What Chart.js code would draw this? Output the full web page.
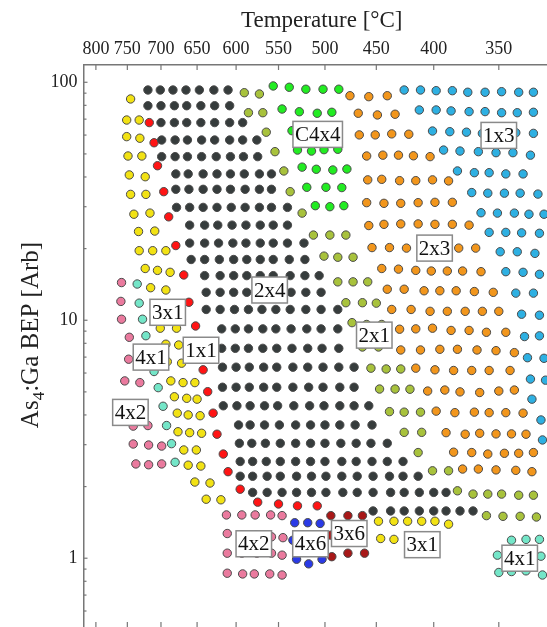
<!DOCTYPE html>
<html>
<head>
<meta charset="utf-8">
<script src="https://cdn.jsdelivr.net/npm/chart.js@4.4.1/dist/chart.umd.min.js"></script>
<style>
  html, body { margin: 0; padding: 0; overflow: hidden; background: #fff; }
  canvas { display: block; }
</style>
</head>
<body>
<canvas id="map" width="560" height="627"></canvas>
<script>
// GaAs(001) surface reconstructions observed vs. substrate temperature and As4:Ga BEP ratio.
// Each point is [temperature in °C, As4:Ga beam-equivalent-pressure ratio].

const tempTicks = [800, 750, 700, 650, 600, 550, 500, 450, 400, 350];
const bepTicks = [1, 10, 100];

const pts2x4 = [
  [719,92.8],[701,92.8],[683,92.8],[665,92.8],[647,92.8],[628,92.8],[610,92.8],
  [719,79.7],[700,79.7],[681,79.7],[664,79.7],[645,79.7],[627,79.7],[608,79.7],
  [700,67.7],[681,67.7],[664,67.7],[645,67.7],[627,67.7],[608,67.7],[592,67.7],
  [699,57.2],[680,57.2],[663,57.2],[644,57.2],[627,57.2],[608,57.2],[592,57.2],[575,57.2],
  [699,48.7],[680,48.7],[663,48.7],[644,48.7],[625,48.7],[607,48.7],[591,48.7],[574,48.7],
  [679,41.2],[662,41.2],[642,41.2],[624,41.2],[607,41.2],[590,41.2],[572,41.2],[558,41.2],
  [679,35.5],[661,35.5],[642,35.5],[624,35.5],[607,35.5],[589,35.5],[572,35.5],[558,35.5],
  [678,29.8],[660,29.8],[642,29.8],[624,29.8],[606,29.8],[589,29.8],[572,29.8],[558,29.8],[540,29.8],
  [660,25.1],[640,25.1],[623,25.1],[605,25.1],[588,25.1],[571,25.1],[556,25.1],[540,25.1],
  [660,21.1],[640,21.1],[622,21.1],[604,21.1],[588,21.1],[571,21.1],[556,21.1],[540,21.1],[522,21.1],
  [658,18.0],[640,18.0],[621,18.0],[603,18.0],[587,18.0],[571,18.0],[556,18.0],[538,18.0],[521,18.0],
  [640,15.4],[620,15.4],[603,15.4],[587,15.4],[571,15.4],[556,15.4],[537,15.4],[521,15.4],[506,15.4],
  [638,13.1],[620,13.1],[603,13.1],[587,13.1],[571,13.1],[556,13.1],[536,13.1],[520,13.1],[504,13.1],
  [638,11.1],[620,11.1],[602,11.1],[585,11.1],[569,11.1],[553,11.1],[537,11.1],[520,11.1],[504,11.1],[487,11.1],
  [618,9.2],[601,9.2],[585,9.2],[568,9.2],[553,9.2],[536,9.2],[519,9.2],[504,9.2],[487,9.2],
  [618,7.62],[601,7.62],[585,7.62],[568,7.62],[552,7.62],[535,7.62],[518,7.62],[503,7.62],[486,7.62],
  [617,6.35],[600,6.35],[584,6.35],[567,6.35],[552,6.35],[534,6.35],[518,6.35],[502,6.35],[486,6.35],[471,6.35],
  [617,5.23],[600,5.23],[584,5.23],[567,5.23],[552,5.23],[534,5.23],[517,5.23],[502,5.23],[485,5.23],[471,5.23],
  [616,4.37],[599,4.37],[583,4.37],[566,4.37],[551,4.37],[533,4.37],[516,4.37],[501,4.37],[485,4.37],[471,4.37],[457,4.37],
  [597,3.63],[583,3.63],[566,3.63],[549,3.63],[531,3.63],[515,3.63],[500,3.63],[485,3.63],[470,3.63],[454,3.63],
  [596,3.04],[581,3.04],[565,3.04],[548,3.04],[531,3.04],[515,3.04],[500,3.04],[484,3.04],[469,3.04],[455,3.04],[440,3.04],
  [595,2.55],[580,2.55],[564,2.55],[548,2.55],[531,2.55],[515,2.55],[500,2.55],[483,2.55],[469,2.55],[454,2.55],[440,2.55],[426,2.55],
  [595,2.21],[580,2.21],[563,2.21],[548,2.21],[530,2.21],[514,2.21],[499,2.21],[483,2.21],[468,2.21],[453,2.21],[438,2.21],[426,2.21],[413,2.21],
  [580,1.89],[563,1.89],[546,1.89],[530,1.89],[514,1.89],[499,1.89],[482,1.89],[468,1.89],[453,1.89],[437,1.89],[425,1.89],[412,1.89],[400,1.89],[390,1.89],
  [453,1.58],[437,1.58],[425,1.58],[412,1.58],[400,1.58],[390,1.58],[379,1.58],[369,1.58]
];

const ptsC4x4 = [
  [556,96.5],[538,95.3],[520,93.5],[502,93.5],[486,93.5],
  [546,77.2],[527,75.2],[508,74.1],[493,74.8],
  [535,62.6],[517,62.4],[502,62.4],[487,62.4],
  [529,51.9],[514,51.4],[501,52.1],[487,52.3],
  [524,44.0],[509,43.1],[492,42.8],[478,43.2],
  [519,36.2],[499,36.2],[483,36.1],
  [510,30.3],[495,30.0],[481,30.3]
];

const pts2x1 = [
  [590,90.4],[572,89.3],[585,74.5],[568,74.5],[564,61.7],[554,51.1],[544,42.4],[537,34.7],[524,28.2],
  [512,22.8],[495,22.8],[479,22.8],[501,18.6],[487,18.4],[472,18.4],
  [487,14.5],[472,14.5],[458,14.5],[479,11.85],[463,11.85],[450,11.8],
  [473,9.77],[459,9.6],[445,9.6],[463,7.72],[448,7.72],
  [455,6.29],[441,6.24],[428,6.24],[447,5.14],[433,5.14],[420,5.13],
  [438,4.13],[425,4.11],[411,4.11],[425,3.38],[410,3.38],[413,2.78],
  [401,2.33],[388,2.33],[381,1.92],[369,1.86],[358,1.86],[348,1.86],[336,1.84],[326,1.84],
  [359,1.51],[347,1.50],[335,1.50],[324,1.49]
];

const pts2x3 = [
  [475,87.8],[457,87.0],[440,87.8],
  [467,74.1],[449,72.9],[433,73.4],
  [466,60.1],[451,60.1],[436,60.7],[421,60.5],
  [459,49.0],[444,49.4],[430,49.4],[417,49.1],[403,48.7],
  [458,38.9],[445,39.1],[429,38.6],[415,38.6],[401,38.9],[388,38.5],
  [459,31.2],[443,31.0],[428,31.0],[413,31.2],[399,31.3],[385,31.3],
  [457,25.0],[443,25.3],[428,25.4],[413,25.4],[399,25.3],[385,25.3],[372,25.1],
  [454,20.2],[438,20.2],[423,20.1],[408,20.1],[394,20.1],[380,20.1],[367,20.1],
  [445,16.5],[430,16.4],[415,16.2],[402,16.1],[389,16.1],[377,16.1],[363,16.0],
  [440,13.5],[425,13.5],[408,13.3],[395,13.3],[382,13.3],[368,13.2],[354,13.1],
  [436,11.1],[419,11.1],[403,10.9],[389,10.9],[375,10.9],[362,10.9],[350,10.9],
  [429,9.17],[415,9.2],[401,9.26],[386,9.06],[372,9.06],[359,8.9],[345,8.9],
  [428,7.50],[411,7.50],[395,7.55],[381,7.55],[366,7.50],[352,7.45],[339,7.31],
  [415,6.29],[399,6.19],[384,6.15],[370,6.15],[357,6.15],[342,6.15],
  [405,5.04],[391,5.09],[379,5.00],[364,4.97],[350,5.04],[339,5.09],
  [398,4.15],[383,4.09],[368,4.11],[357,4.09],[345,4.09],[333,4.07],
  [390,3.37],[375,3.32],[364,3.35],[352,3.33],[341,3.33],[331,3.32],
  [384,2.79],[370,2.78],[358,2.74],[346,2.76],[336,2.76],[326,2.78],
  [377,2.37],[365,2.37],[352,2.35],[338,2.34],[327,2.31]
];

const pts1x3 = [
  [425,92.8],[411,92.8],[398,92.2],[385,92.2],[373,90.8],[360,90.8],[348,91.3],[336,90.8],[326,90.8],
  [412,76.5],[398,76.5],[386,75.8],[372,75.3],[360,75.3],[348,74.5],[337,74.5],[326,74.8],
  [401,62.4],[387,62.0],[374,61.7],[362,61.0],[350,61.1],[338,61.4],[326,61.0],
  [392,51.9],[379,51.4],[365,51.1],[352,50.6],[340,50.6],[328,49.4],
  [381,42.4],[368,41.7],[357,41.7],[345,41.2],[333,41.2],
  [370,34.4],[358,34.2],[346,34.2],[335,34.2],[323,33.9],
  [363,28.3],[351,28.2],[339,28.2],[329,27.9],[319,27.9],
  [357,23.4],[345,23.4],[334,23.3],[322,23.2],
  [349,19.4],[337,19.4],[325,19.1],
  [345,16.0],[333,15.9],[322,15.6],
  [338,13.0],[326,13.0],
  [334,10.6],[322,10.5],
  [332,8.54],[322,8.60],
  [330,6.96],[319,6.92],
  [328,5.66],[318,5.60],
  [327,4.66],[321,3.81],[320,3.14]
];

const pts3x1 = [
  [745,85.1],[751,69.4],[732,69.4],[751,59.1],[731,58.2],[749,49.0],[728,49.0],
  [747,40.8],[723,40.1],[745,33.8],[722,33.8],[740,27.9],[716,28.2],[733,23.6],[709,23.7],
  [732,19.6],[712,19.6],[693,19.6],[723,16.5],[705,16.2],[687,15.9],[715,13.7],[693,13.4],
  [706,11.1],[681,11.1],[701,9.26],[678,9.26],[693,7.93],[675,7.87],[691,6.70],[671,6.60],
  [686,5.56],[669,5.47],[653,5.47],[681,4.77],[664,4.70],[650,4.66],[677,4.07],[662,4.00],[646,3.97],
  [676,3.40],[660,3.37],[644,3.35],[668,2.85],[651,2.85],[662,2.46],[645,2.44],
  [653,2.09],[633,2.07],[638,1.77],[619,1.76],
  [448,1.43],[434,1.43],[422,1.43],[410,1.43],[399,1.43],[388,1.39],
  [446,1.21],[434,1.20],[421,1.20],[409,1.20]
];

const pts1x1 = [
  [717,67.7],[710,55.7],[705,44.6],[696,34.7],[689,27.2],[679,20.6],[668,15.5],[661,11.9],
  [652,9.46],[647,7.67],[642,6.19],[636,5.01],[629,4.07],[624,3.32],[616,2.74],[610,2.31],
  [595,1.95],[574,1.72],[550,1.69],[529,1.66],[508,1.66]
];

const pts4x1 = [
  [735,14.2],[732,11.8],[727,10.1],[722,8.61],[716,7.36],[710,6.09],[704,5.21],[697,4.35],
  [692,3.61],[685,3.03],[680,2.53],
  [341,1.19],[331,1.20],[322,1.20],[351,1.03],[341,1.02],[331,1.02],[321,1.02],
  [350,0.871],[341,0.879],[331,0.885],[320,0.850]
];

const pts4x2 = [
  [759,14.4],[760,12.0],[759,10.1],[747,8.48],[748,6.86],[754,5.56],[731,5.47],[752,4.40],[731,4.40],
  [741,3.59],[719,3.61],[741,3.02],[718,2.99],[699,2.96],[737,2.49],[718,2.47],[699,2.49],
  [612,1.52],[593,1.52],[577,1.52],[559,1.52],[546,1.51],
  [611,1.27],[593,1.25],[576,1.25],[558,1.23],[545,1.22],
  [611,1.05],[593,1.05],[575,1.05],[558,1.05],[546,1.03],
  [611,0.865],[592,0.859],[578,0.859],[560,0.859],[546,0.850]
];

const pts4x6 = [
  [532,1.41],[518,1.41],[505,1.40],[534,1.19],[518,1.19],[504,1.19],[530,0.99],[517,0.947],[503,0.99]
];

const pts3x6 = [
  [494,1.51],[477,1.51],[463,1.51],[494,1.25],[478,1.25],[463,1.25],[493,1.015],[477,1.05],[461,1.05]
];

// Region names placed at [temperature, BEP]
const regionLabels = [
  ['C4x4', 507.5, 60.4], ['1x3', 350.0, 59.8], ['2x3', 399.3, 20.1], ['2x4', 560.1, 13.4],
  ['2x1', 451.9, 8.66], ['3x1', 690.4, 10.8], ['4x1', 714.5, 7.00], ['1x1', 644.8, 7.48],
  ['4x2', 745.3, 4.10], ['4x2', 578.6, 1.15], ['4x6', 515.1, 1.15], ['3x6', 475.7, 1.27],
  ['3x1', 409.5, 1.14], ['4x1', 335.3, 1.00]
];

const SERIF = "'Liberation Serif', 'Times New Roman', serif";

function series(name, pts, fill) {
  return {
    label: name,
    data: pts.map(p => ({ x: p[0], y: p[1] })),
    backgroundColor: fill,
    borderColor: '#4a4a4a',
    borderWidth: 1,
    pointRadius: 4.2,
    pointHoverRadius: 4.2
  };
}

const datasets = [
  series('2x4', pts2x4, '#363c3c'),
  series('c(4x4)', ptsC4x4, '#22ec22'),
  series('2x1', pts2x1, '#a8c23c'),
  series('2x3', pts2x3, '#f2961c'),
  series('1x3', pts1x3, '#2eb0e2'),
  series('3x1', pts3x1, '#f2e214'),
  series('1x1', pts1x1, '#ff1414'),
  series('4x1', pts4x1, '#74e6c8'),
  series('4x2', pts4x2, '#ea7a9e'),
  series('4x6', pts4x6, '#2a3ae6'),
  series('3x6', pts3x6, '#a81818')
];

// Inward tick marks, rotated y title with subscript, and boxed region names
const overlay = {
  id: 'overlay',
  afterDraw(chart) {
    const ctx = chart.ctx, a = chart.chartArea;
    const xs = chart.scales.x, ys = chart.scales.y;
    ctx.save();
    ctx.strokeStyle = '#777';
    ctx.lineWidth = 1.2;
    const seg = (x1, y1, x2, y2) => { ctx.beginPath(); ctx.moveTo(x1, y1); ctx.lineTo(x2, y2); ctx.stroke(); };
    tempTicks.forEach(t => {
      const px = xs.getPixelForValue(t);
      seg(px, a.top, px, a.top + 5);
      seg(px, a.bottom, px, a.bottom - 5);
    });
    for (let e = -1; e <= 2; e++) {
      const dec = Math.pow(10, e);
      for (let m = 1; m <= 9; m++) {
        const v = m * dec;
        if (v < ys.min || v > ys.max) continue;
        const py = ys.getPixelForValue(v);
        seg(a.left, py, a.left + (m === 1 ? 4 : 3), py);
      }
    }

    // boxed region names
    ctx.font = '21px ' + SERIF;
    ctx.textAlign = 'center';
    ctx.textBaseline = 'middle';
    regionLabels.forEach(([txt, t, b]) => {
      const cx = xs.getPixelForValue(t), cy = ys.getPixelForValue(b);
      const w = ctx.measureText(txt).width + 4, h = 26;
      ctx.fillStyle = '#fff';
      ctx.fillRect(cx - w / 2, cy - h / 2, w, h);
      ctx.strokeStyle = '#8a8a8a';
      ctx.lineWidth = 1.5;
      ctx.strokeRect(cx - w / 2, cy - h / 2, w, h);
      ctx.fillStyle = '#111';
      ctx.fillText(txt, cx, cy + 1);
    });

    // y-axis title: As4:Ga BEP [Arb] with subscript 4
    const big = '25px ' + SERIF, small = '17px ' + SERIF;
    ctx.translate(30, 335);
    ctx.rotate(-Math.PI / 2);
    ctx.textAlign = 'left';
    ctx.textBaseline = 'alphabetic';
    ctx.fillStyle = '#222';
    ctx.font = big; const w1 = ctx.measureText('As').width;
    ctx.font = small; const w2 = ctx.measureText('4').width;
    ctx.font = big; const w3 = ctx.measureText(':Ga BEP [Arb]').width;
    let x0 = -(w1 + w2 + w3) / 2;
    ctx.font = big; ctx.fillText('As', x0, 8);
    ctx.font = small; ctx.fillText('4', x0 + w1, 14);
    ctx.font = big; ctx.fillText(':Ga BEP [Arb]', x0 + w1 + w2, 8);
    ctx.restore();
  }
};

new Chart(document.getElementById('map'), {
  type: 'scatter',
  data: { datasets },
  options: {
    responsive: false,
    animation: false,
    layout: { padding: 0, autoPadding: false },
    plugins: { legend: { display: false }, tooltip: { enabled: false } },
    scales: {
      x: {
        type: 'logarithmic',
        position: 'top',
        reverse: true,
        min: 308.7,
        max: 820.6,
        grid: { display: false, drawTicks: false },
        border: { display: true, color: '#777', width: 1.5 },
        afterBuildTicks: s => { s.ticks = tempTicks.map(v => ({ value: v })); },
        afterFit: s => { s.height = 65; s.paddingLeft = 0; s.paddingRight = 0; },
        ticks: {
          autoSkip: false, maxRotation: 0, padding: 5, color: '#222',
          font: { family: SERIF, size: 18 },
          callback: v => String(v)
        },
        title: {
          display: true, text: 'Temperature [°C]', color: '#222',
          font: { family: SERIF, size: 23 }, padding: { top: 7, bottom: 0 }
        }
      },
      y: {
        type: 'logarithmic',
        min: 0.514,
        max: 118.2,
        grid: { display: false, drawTicks: false },
        border: { display: true, color: '#777', width: 1.5 },
        afterBuildTicks: s => { s.ticks = bepTicks.map(v => ({ value: v })); },
        afterFit: s => { s.width = 83.5; s.paddingTop = 0; s.paddingBottom = 0; },
        ticks: {
          autoSkip: false, padding: 6, color: '#222',
          font: { family: SERIF, size: 18 },
          callback: v => String(v)
        }
      }
    }
  },
  plugins: [overlay]
});
</script>
</body>
</html>
